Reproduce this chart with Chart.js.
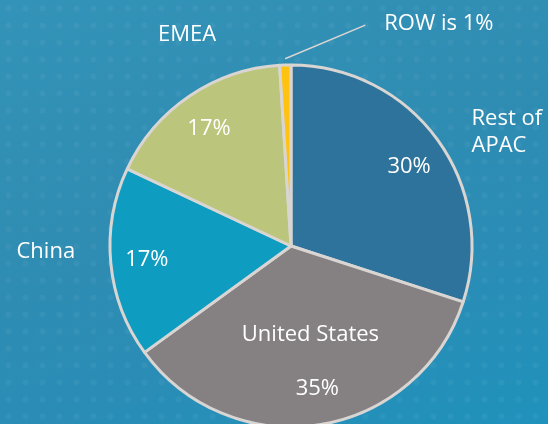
<!DOCTYPE html>
<html>
<head>
<meta charset="utf-8">
<script src="https://cdn.jsdelivr.net/npm/chart.js@4/dist/chart.umd.min.js"></script>
<style>
  html, body { margin: 0; padding: 0; }
  body {
    width: 548px; height: 424px; overflow: hidden;
    background:
      radial-gradient(circle, rgba(255,255,255,0.045) 2.5px, rgba(255,255,255,0) 3.5px) 0 0 / 17px 17px,
      linear-gradient(160deg, #3493b8 0%, #2f8cb2 45%, #2a8db6 70%, #1f92bb 100%);
  }
  #wrap { position: relative; width: 548px; height: 424px; }
  canvas { display: block; }
</style>
</head>
<body>
<div id="wrap"><canvas id="c" width="548" height="424"></canvas></div>
<script>
// ---- data ----
const categories = ["Rest of APAC", "United States", "China", "EMEA", "ROW"];
const shares = [30, 35, 17, 17, 1];
const percentLabels = ["30%", "35%", "17%", "17%", ""];
const nameLabels = [["Rest of", "APAC"], ["United States"], ["China"], ["EMEA"], ["ROW is 1%"]];

// ---- styling ----
const sliceColors = ["#2e739b", "#858081", "#0e9cc0", "#bcc57c", "#ffc20e"];
const borderColor = "#d9d5d2";
const FONT = "'Open Sans', 'Liberation Sans', sans-serif";
// percent label placement: angle shift from slice middle (degrees) and distance in radii
const pctPlacement = [
  { dAngle: 2.2, dist: 0.785 },
  { dAngle: -1.5, dist: 0.80 },
  { dAngle: 0, dist: 0.80 },
  { dAngle: -0.8, dist: 0.79 },
  { dAngle: 0, dist: 0.8 }
];
// name label placement: polar (degrees, canvas convention) and distance in radii
const namePlacement = [
  { angle: -32.3, dist: 1.18, align: "left", lineH: 27 },
  { angle: 77.6, dist: 0.50, align: "center", lineH: 26 },
  { angle: 178.7, dist: 1.355, align: "center", lineH: 26 },
  { angle: 243.8, dist: 1.30, align: "center", lineH: 26 },
  { angle: -67.2, dist: 1.33, align: "left", lineH: 26, leader: true }
];

const labelPlugin = {
  id: "labels",
  afterDatasetsDraw(chart) {
    const ctx = chart.ctx;
    const arcs = chart.getDatasetMeta(0).data;
    ctx.save();
    ctx.fillStyle = "#ffffff";
    ctx.font = "22px " + FONT;
    ctx.textBaseline = "middle";
    arcs.forEach((arc, i) => {
      const { x, y, outerRadius, startAngle, endAngle } = arc.getProps(["x", "y", "outerRadius", "startAngle", "endAngle"], true);
      const mid = (startAngle + endAngle) / 2;
      if (percentLabels[i]) {
        const q = pctPlacement[i];
        const pa = mid + q.dAngle * Math.PI / 180;
        ctx.textAlign = "center";
        ctx.fillText(percentLabels[i], x + Math.cos(pa) * outerRadius * q.dist, y + Math.sin(pa) * outerRadius * q.dist);
      }
      const p = namePlacement[i];
      const a = p.angle * Math.PI / 180;
      let lx = x + Math.cos(a) * outerRadius * p.dist;
      let ly = y + Math.sin(a) * outerRadius * p.dist;
      const lines = nameLabels[i];
      ctx.textAlign = p.align;
      if (p.leader) {
        ctx.strokeStyle = "#d9d5d2";
        ctx.lineWidth = 1.5;
        ctx.beginPath();
        ctx.moveTo(x + Math.cos(mid) * outerRadius * 1.035, y + Math.sin(mid) * outerRadius * 1.035);
        ctx.lineTo(lx - 19, ly + 1);
        ctx.stroke();
      }
      const y0 = ly - (lines.length - 1) * p.lineH / 2;
      lines.forEach((t, k) => ctx.fillText(t, lx, y0 + k * p.lineH));
    });
    ctx.restore();
  }
};

new Chart(document.getElementById("c"), {
  type: "pie",
  data: {
    labels: categories,
    datasets: [{
      data: shares,
      backgroundColor: sliceColors,
      borderColor: borderColor,
      borderWidth: 3,
      borderAlign: "center"
    }]
  },
  options: {
    responsive: false,
    animation: false,
    radius: 181,
    clip: false,
    layout: { padding: { left: 34, right: 0, top: 68, bottom: 0 } },
    plugins: { legend: { display: false }, tooltip: { enabled: false } }
  },
  plugins: [labelPlugin]
});
</script>
</body>
</html>
